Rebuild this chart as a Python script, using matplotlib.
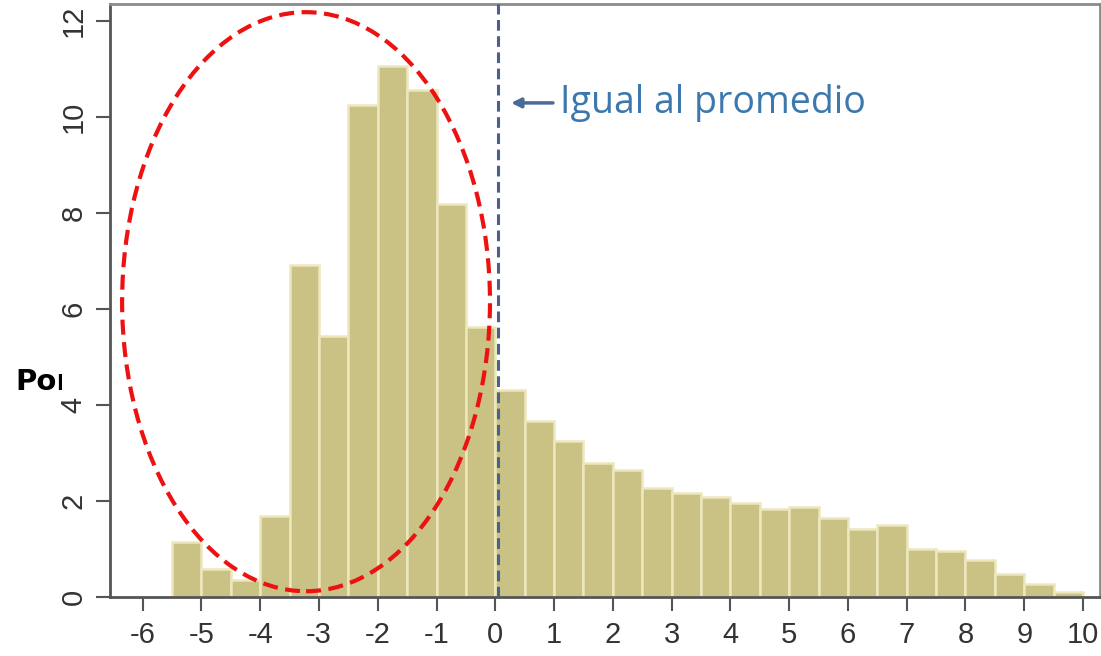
import numpy as np
import matplotlib
matplotlib.use("Agg")
import matplotlib.pyplot as plt
from matplotlib.patches import Ellipse, Rectangle

plt.rcParams["axes.unicode_minus"] = False

# histogram bins (width 0.5) and heights (percent)
bin_left = [-5.5, -5.0, -4.5, -4.0, -3.5, -3.0, -2.5, -2.0, -1.5, -1.0, -0.5,
            0.0, 0.5, 1.0, 1.5, 2.0, 2.5, 3.0, 3.5, 4.0, 4.5,
            5.0, 5.5, 6.0, 6.5, 7.0, 7.5, 8.0, 8.5, 9.0, 9.5]
heights = [1.15, 0.59, 0.35, 1.68, 6.91, 5.43, 10.24, 11.06, 10.56, 8.18, 5.62,
           4.31, 3.67, 3.24, 2.79, 2.65, 2.27, 2.17, 2.08, 1.95, 1.83,
           1.87, 1.65, 1.41, 1.49, 0.99, 0.95, 0.78, 0.47, 0.28, 0.10]
bin_width = 0.5
x_ticks = list(range(-6, 11))
y_ticks = [0, 2, 4, 6, 8, 10, 12]

fig = plt.figure(figsize=(11.01, 6.56), dpi=100)
ax = fig.add_axes([110 / 1101, 1 - 597 / 656, 990 / 1101, 593 / 656])

ax.bar(bin_left, heights, width=bin_width, align="edge",
       color="#c9c284", edgecolor="#ece7bd", linewidth=1.8, zorder=2)

ax.set_xlim(-6.556, 10.29)
ax.set_ylim(0, 12.35)
ax.set_xticks(x_ticks)
ax.set_yticks(y_ticks)
ax.tick_params(axis="x", direction="out", length=10, width=1.5, color="#555555",
               labelsize=21, labelcolor="#333333", pad=7)
ax.tick_params(axis="y", direction="out", length=10, width=1.5, color="#555555",
               labelsize=21, labelcolor="#333333", pad=6, labelrotation=90)
for t in ax.get_yticklabels():
    t.set_verticalalignment("center")
for lbl in ax.get_xticklabels() + ax.get_yticklabels():
    lbl.set_family("Liberation Sans")

for side in ["left", "bottom"]:
    ax.spines[side].set_color("#555555")
    ax.spines[side].set_linewidth(2)
for side in ["top", "right"]:
    ax.spines[side].set_color("#8a8a8a")
    ax.spines[side].set_linewidth(2)

# mean line
ax.axvline(0.05, color="#4b6189", linestyle=(0, (3.5, 1.8)), linewidth=2.2, zorder=3)

ax.annotate("Igual al promedio", xy=(0.27, 10.29), xytext=(1.1, 10.29),
            fontsize=27, color="#3c78ad", family="Open Sans", va="center", ha="left",
            arrowprops=dict(arrowstyle="-|>", color="#4a6a9a", lw=2.5,
                            shrinkA=3, shrinkB=0, mutation_scale=14))

# red dashed ellipse
ell = Ellipse((-3.22, 6.15), 6.26, 12.06, fill=False, edgecolor="#ee1111",
              linestyle=(0, (3.6, 1.8)), linewidth=3, zorder=4, clip_on=False)
ax.add_patch(ell)

# cut-off y label behind the chart
fig.text(15 / 1101, 1 - 382 / 656, "Porcentaje", fontsize=21, fontweight="bold",
         family="DejaVu Sans", color="black", va="center", ha="left", zorder=-2)
fig.patches.append(Rectangle((62 / 1101, 0), 48 / 1101, 1, transform=fig.transFigure,
                             facecolor="white", edgecolor="none", zorder=-1))

fig.savefig("out.png", dpi=100)
